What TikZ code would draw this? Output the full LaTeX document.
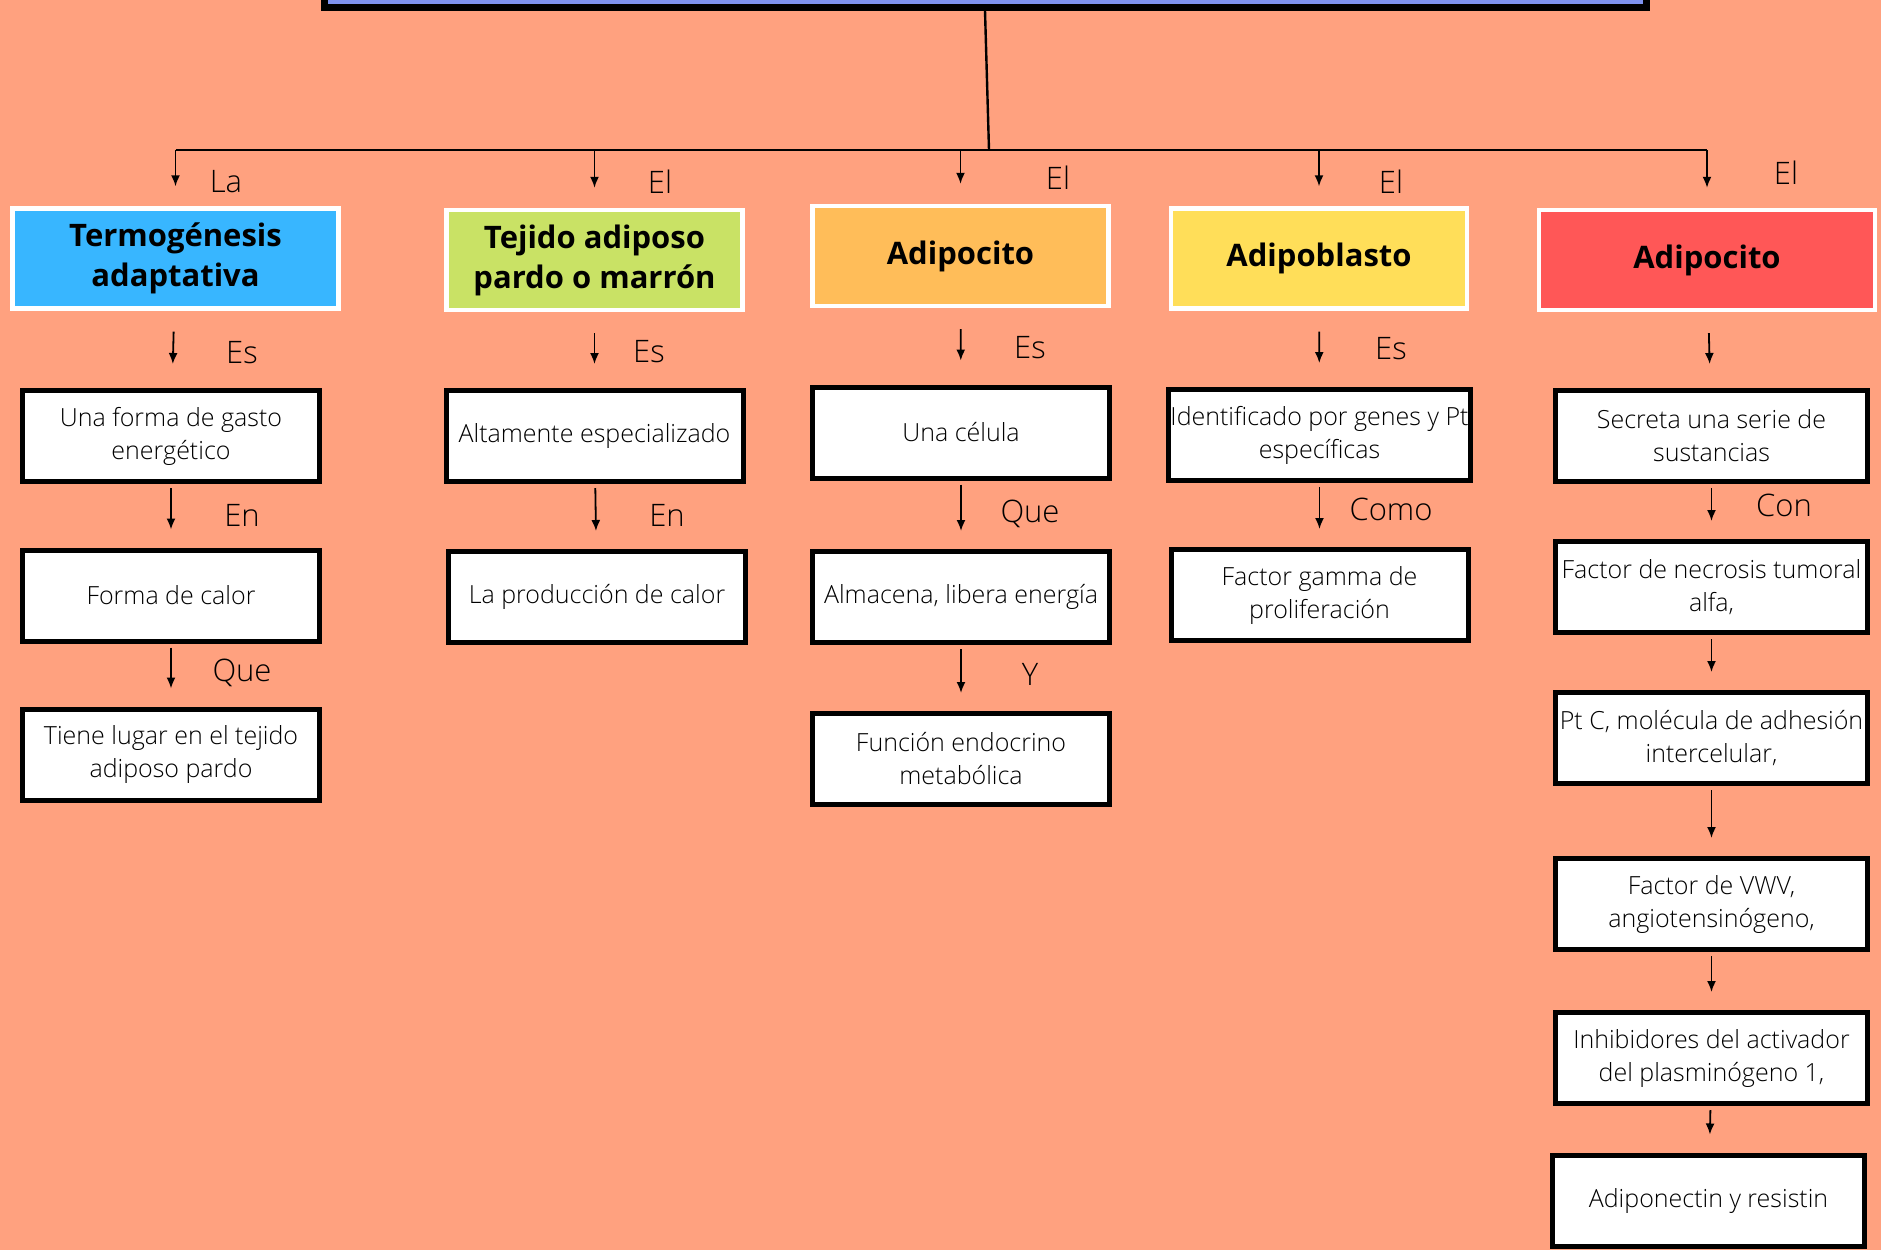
\documentclass[tikz,border=0pt]{standalone}
\usepackage{fontspec}
\setmainfont{Open Sans}[UprightFont=* Light, BoldFont=* Bold]
\usetikzlibrary{positioning}
\usetikzlibrary{arrows.meta}
\definecolor{bgc}{HTML}{FFA17F}
\definecolor{topc}{HTML}{7F93F0}
\definecolor{hblue}{HTML}{38B6FF}
\definecolor{hgreen}{HTML}{C9E265}
\definecolor{horange}{HTML}{FFBD59}
\definecolor{hyellow}{HTML}{FFDE59}
\definecolor{hred}{HTML}{FF5757}
\tikzset{
    topbox/.style = {rectangle, draw=black, line width=3.5pt, fill=topc},
    hdrbox/.style = {rectangle, draw=white, line width=2.2pt, align=center, minimum width=148pt, minimum height=50pt, font=\fontsize{15.5}{20}\selectfont\bfseries},
    cellbox/.style = {rectangle, draw=black, line width=2.5pt, fill=white, align=center, minimum width=148.5pt, minimum height=45.5pt, inner sep=1pt, font=\fontsize{12.5}{16.5}\selectfont},
    widecell/.style = {cellbox, minimum width=156pt},
    lbl/.style = {font=\fontsize{15.5}{18}\selectfont, inner sep=0pt},
    busline/.style = {line width=1.2pt},
    edgea/.style = {-{Latex[length=5.5pt,width=4.5pt]}, line width=0.9pt, shorten <=2pt, shorten >=9pt},
    edgeh/.style = {edgea, shorten <=10.5pt, shorten >=12pt},
    edged/.style = {-{Latex[length=5.5pt,width=4.5pt]}, line width=0.9pt, shorten >=10pt}
}
\begin{document}
\begin{tikzpicture}[x=0.5pt,y=-0.5pt]
\fill[bgc] (0,0) rectangle (1881,1250);
\useasboundingbox (0,0) rectangle (1881,1250);
%
\node[topbox, minimum width=661pt, minimum height=64pt] at (985,-57) (top) {};
\coordinate (bus) at (989,150);
%
\node[hdrbox, fill=hblue, minimum width=163pt] at (175.5,258.5) (h1) {Termogénesis\\adaptativa};
\node[hdrbox, fill=hgreen] at (594.5,260) (h2) {Tejido adiposo\\pardo o marrón};
\node[hdrbox, fill=horange] at (960.5,256) (h3) {Adipocito};
\node[hdrbox, fill=hyellow] at (1319,258.5) (h4) {Adipoblasto};
\node[hdrbox, fill=hred, minimum width=168pt] at (1707,260) (h5) {Adipocito};
%
\node[cellbox] at (171,436) (c11) {Una forma de gasto\\energético};
\node[cellbox] at (171,595.5) (c12) {Forma de calor};
\node[cellbox] at (171,754.5) (c13) {Tiene lugar en el tejido\\adiposo pardo};
\node[cellbox] at (594.5,436) (c21) {Altamente especializado};
\node[cellbox] at (597,597) (c22) {La producción de calor};
\node[cellbox] at (961,432.5) (c31) {Una célula};
\node[cellbox] at (961,597) (c32) {Almacena, libera energía};
\node[cellbox] at (961,759) (c33) {Función endocrino\\metabólica};
\node[cellbox] at (1319.5,435) (c41) {Identificado por genes y Pt\\específicas};
\node[cellbox] at (1319.5,595) (c42) {Factor gamma de\\proliferación};
\node[widecell] at (1711.5,436) (c51) {Secreta una serie de\\sustancias};
\node[widecell] at (1711.5,587) (c52) {Factor de necrosis tumoral\\alfa,};
\node[widecell] at (1711.5,738) (c53) {Pt C, molécula de adhesión\\intercelular,};
\node[widecell] at (1711.5,904) (c54) {Factor de VWV,\\angiotensinógeno,};
\node[widecell] at (1711.5,1058) (c55) {Inhibidores del activador\\del plasminógeno 1,};
\node[widecell] at (1708.5,1200.5) (c56) {Adiponectin y resistin};
%
\node[lbl] at (226,182) (l1) {La};
\node[lbl] at (660,182) (l2) {El};
\node[lbl] at (1058,178) (l3) {El};
\node[lbl] at (1391,182) (l4) {El};
\node[lbl] at (1786,173) (l5) {El};
\node[lbl] at (242,353) (l11) {Es};
\node[lbl] at (242,515) (l12) {En};
\node[lbl] at (242,673) (l13) {Que};
\node[lbl] at (649,352) (l21) {Es};
\node[lbl] at (667,515) (l22) {En};
\node[lbl] at (1030,348) (l31) {Es};
\node[lbl] at (1030,514) (l32) {Que};
\node[lbl] at (1030,674) (l33) {Y};
\node[lbl] at (1391,349) (l41) {Es};
\node[lbl] at (1391,509) (l42) {Como};
\node[lbl] at (1784,505) (l51) {Con};
%
\draw[busline] (top.south) -- (bus);
\draw[busline] (h1.north |- bus) -- (h5.north |- bus);
\foreach \h in {h1,h2,h3,h4,h5}
  \draw[edged] (\h.north |- bus) -- (\h.north);
%
\draw[edgeh] (h1) -- (c11);
\draw[edgea] (c11) -- (c12);
\draw[edgea] (c12) -- (c13);
\draw[edgeh] (h2) -- (c21);
\draw[edgea] (c21) -- (c22);
\draw[edgeh] (h3) -- (c31);
\draw[edgea] (c31) -- (c32);
\draw[edgea] (c32) -- (c33);
\draw[edgeh] (h4) -- (c41);
\draw[edgea] (c41) -- (c42);
\draw[edgeh] (h5) -- (c51);
\draw[edgea] (c51) -- (c52);
\draw[edgea] (c52) -- (c53);
\draw[edgea] (c53) -- (c54);
\draw[edgea] (c54) -- (c55);
\draw[edgea] (c55) -- (c56);

\end{tikzpicture}
\end{document}
